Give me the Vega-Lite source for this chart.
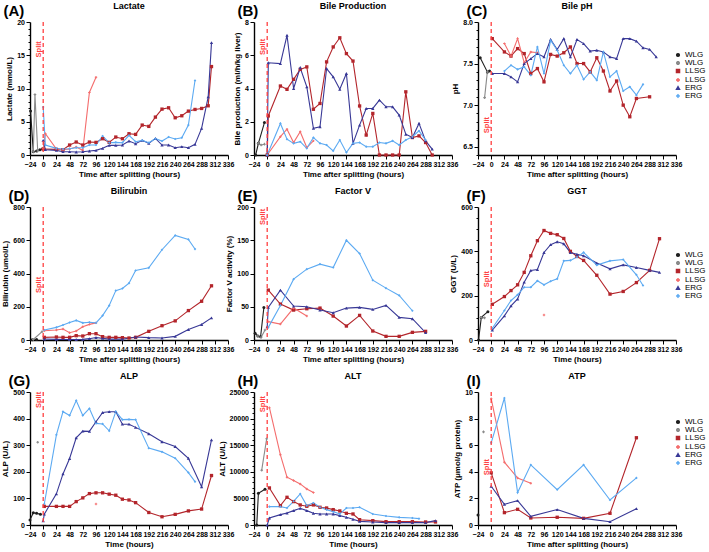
{
"$schema":"https://vega.github.io/schema/vega-lite/v6.json",
"padding":{"left":1,"top":2,"right":0,"bottom":0},
"background":"white",
"config":{
 "view":{"stroke":null},
 "font":"Liberation Sans",
 "axis":{"grid":false,"domainColor":"#000","domainWidth":1.4,"tickColor":"#000","tickWidth":1,"tickSize":4,"labelFont":"Liberation Sans","labelFontWeight":"bold","labelFontSize":7,"labelColor":"#000","labelPadding":1.5,"titleFont":"Liberation Sans","titleFontWeight":"bold","titleFontSize":8,"titleColor":"#000","titlePadding":3,"labelOverlap":false},
 "axisX":{"labelFlush":false},
 "title":{"font":"Liberation Sans","fontSize":9,"fontWeight":"bold","color":"#000","anchor":"middle","frame":"group","offset":-8},
 "legend":{"labelFont":"Liberation Sans","labelFontSize":8,"labelColor":"#000","symbolSize":144,"symbolStrokeWidth":1.2,"rowPadding":-1.5,"labelOffset":3}
},
"datasets":{
"A":[
{"s":"WLG1","t":-23,"v":6.6},{"s":"WLG1","t":-18,"v":0.5},{"s":"WLG1","t":-12,"v":0.6},{"s":"WLG1","t":-6,"v":0.8},{"s":"WLG1","t":-1,"v":0.9},
{"s":"WLG2","t":-18,"v":0.5},{"s":"WLG2","t":-15,"v":9.1},{"s":"WLG2","t":-10,"v":0.6},
{"s":"LLSG1","t":0,"v":0.9},{"s":"LLSG1","t":24,"v":0.85},{"s":"LLSG1","t":36,"v":0.8},{"s":"LLSG1","t":48,"v":1.5},{"s":"LLSG1","t":60,"v":1.95},{"s":"LLSG1","t":72,"v":1.5},{"s":"LLSG1","t":84,"v":1.95},{"s":"LLSG1","t":96,"v":1.9},{"s":"LLSG1","t":108,"v":2.45},{"s":"LLSG1","t":120,"v":1.9},{"s":"LLSG1","t":132,"v":2.7},{"s":"LLSG1","t":144,"v":2.45},{"s":"LLSG1","t":156,"v":3.2},{"s":"LLSG1","t":168,"v":3.1},{"s":"LLSG1","t":180,"v":4.5},{"s":"LLSG1","t":192,"v":4.3},{"s":"LLSG1","t":204,"v":5.7},{"s":"LLSG1","t":216,"v":6.9},{"s":"LLSG1","t":228,"v":7.1},{"s":"LLSG1","t":240,"v":5.6},{"s":"LLSG1","t":252,"v":5.9},{"s":"LLSG1","t":264,"v":6.6},{"s":"LLSG1","t":276,"v":6.85},{"s":"LLSG1","t":288,"v":7.0},{"s":"LLSG1","t":300,"v":7.4},{"s":"LLSG1","t":306,"v":13.3},
{"s":"LLSG2","t":0,"v":1.0},{"s":"LLSG2","t":4,"v":3.2},{"s":"LLSG2","t":24,"v":0.9},{"s":"LLSG2","t":36,"v":0.8},{"s":"LLSG2","t":48,"v":0.9},{"s":"LLSG2","t":60,"v":1.2},{"s":"LLSG2","t":72,"v":0.7},{"s":"LLSG2","t":84,"v":9.4},{"s":"LLSG2","t":96,"v":11.7},
{"s":"ERG1","t":0,"v":2.2},{"s":"ERG1","t":4,"v":0.8},{"s":"ERG1","t":24,"v":0.7},{"s":"ERG1","t":36,"v":0.5},{"s":"ERG1","t":48,"v":0.5},{"s":"ERG1","t":60,"v":0.45},{"s":"ERG1","t":72,"v":0.5},{"s":"ERG1","t":84,"v":0.6},{"s":"ERG1","t":96,"v":0.7},{"s":"ERG1","t":108,"v":1.0},{"s":"ERG1","t":120,"v":1.45},{"s":"ERG1","t":132,"v":1.45},{"s":"ERG1","t":144,"v":1.5},{"s":"ERG1","t":156,"v":2.1},{"s":"ERG1","t":168,"v":1.7},{"s":"ERG1","t":180,"v":2.2},{"s":"ERG1","t":192,"v":1.75},{"s":"ERG1","t":204,"v":2.5},{"s":"ERG1","t":216,"v":1.5},{"s":"ERG1","t":228,"v":1.5},{"s":"ERG1","t":240,"v":1.1},{"s":"ERG1","t":252,"v":1.25},{"s":"ERG1","t":264,"v":1.1},{"s":"ERG1","t":276,"v":1.6},{"s":"ERG1","t":288,"v":4.0},{"s":"ERG1","t":300,"v":8.75},{"s":"ERG1","t":306,"v":16.9},
{"s":"ERG2","t":0,"v":7.2},{"s":"ERG2","t":4,"v":1.5},{"s":"ERG2","t":24,"v":1.0},{"s":"ERG2","t":36,"v":0.9},{"s":"ERG2","t":48,"v":0.95},{"s":"ERG2","t":60,"v":1.1},{"s":"ERG2","t":72,"v":1.1},{"s":"ERG2","t":84,"v":1.5},{"s":"ERG2","t":96,"v":1.5},{"s":"ERG2","t":108,"v":2.85},{"s":"ERG2","t":120,"v":1.85},{"s":"ERG2","t":132,"v":1.9},{"s":"ERG2","t":144,"v":1.85},{"s":"ERG2","t":156,"v":2.95},{"s":"ERG2","t":168,"v":2.0},{"s":"ERG2","t":180,"v":2.2},{"s":"ERG2","t":192,"v":1.85},{"s":"ERG2","t":204,"v":2.45},{"s":"ERG2","t":216,"v":2.1},{"s":"ERG2","t":228,"v":2.7},{"s":"ERG2","t":240,"v":2.4},{"s":"ERG2","t":252,"v":2.6},{"s":"ERG2","t":264,"v":4.5},{"s":"ERG2","t":276,"v":11.2}
],
"B":[
{"s":"WLG1","t":-21,"v":0},{"s":"WLG1","t":-16,"v":0.7},{"s":"WLG1","t":-5,"v":1.95},
{"s":"WLG2","t":-16,"v":0.7},{"s":"WLG2","t":-11,"v":0.6},{"s":"WLG2","t":-5,"v":0.65},
{"s":"LLSG1","t":0,"v":0},{"s":"LLSG1","t":2,"v":2.35},{"s":"LLSG1","t":24,"v":4.15},{"s":"LLSG1","t":36,"v":3.95},{"s":"LLSG1","t":48,"v":4.55},{"s":"LLSG1","t":60,"v":5.15},{"s":"LLSG1","t":72,"v":5.3},{"s":"LLSG1","t":84,"v":2.75},{"s":"LLSG1","t":96,"v":3.1},{"s":"LLSG1","t":108,"v":5.6},{"s":"LLSG1","t":120,"v":6.5},{"s":"LLSG1","t":132,"v":7.05},{"s":"LLSG1","t":144,"v":6.1},{"s":"LLSG1","t":156,"v":5.65},{"s":"LLSG1","t":168,"v":2.95},{"s":"LLSG1","t":180,"v":1.2},{"s":"LLSG1","t":192,"v":2.5},{"s":"LLSG1","t":204,"v":0},{"s":"LLSG1","t":216,"v":0},{"s":"LLSG1","t":228,"v":0},{"s":"LLSG1","t":240,"v":0},{"s":"LLSG1","t":252,"v":3.8},{"s":"LLSG1","t":264,"v":1.05},{"s":"LLSG1","t":276,"v":1.15},{"s":"LLSG1","t":288,"v":0.75},{"s":"LLSG1","t":300,"v":0},
{"s":"LLSG2","t":0,"v":0},{"s":"LLSG2","t":24,"v":1.1},{"s":"LLSG2","t":36,"v":1.55},{"s":"LLSG2","t":48,"v":0.75},{"s":"LLSG2","t":60,"v":1.4},{"s":"LLSG2","t":72,"v":0.45},{"s":"LLSG2","t":84,"v":0.85},
{"s":"ERG1","t":0,"v":0},{"s":"ERG1","t":2,"v":5.55},{"s":"ERG1","t":24,"v":5.5},{"s":"ERG1","t":36,"v":7.2},{"s":"ERG1","t":48,"v":4.0},{"s":"ERG1","t":60,"v":5.25},{"s":"ERG1","t":72,"v":4.1},{"s":"ERG1","t":84,"v":1.6},{"s":"ERG1","t":96,"v":1.7},{"s":"ERG1","t":108,"v":5.2},{"s":"ERG1","t":120,"v":4.7},{"s":"ERG1","t":132,"v":3.95},{"s":"ERG1","t":144,"v":4.9},{"s":"ERG1","t":156,"v":0.7},{"s":"ERG1","t":168,"v":1.8},{"s":"ERG1","t":180,"v":2.8},{"s":"ERG1","t":192,"v":2.8},{"s":"ERG1","t":204,"v":3.3},{"s":"ERG1","t":216,"v":2.9},{"s":"ERG1","t":228,"v":2.9},{"s":"ERG1","t":240,"v":2.4},{"s":"ERG1","t":252,"v":1.25},{"s":"ERG1","t":264,"v":1.05},{"s":"ERG1","t":276,"v":1.9},{"s":"ERG1","t":288,"v":0.85},{"s":"ERG1","t":300,"v":0.35},
{"s":"ERG2","t":0,"v":0},{"s":"ERG2","t":24,"v":1.9},{"s":"ERG2","t":36,"v":0.95},{"s":"ERG2","t":48,"v":0.7},{"s":"ERG2","t":60,"v":0.8},{"s":"ERG2","t":72,"v":0.4},{"s":"ERG2","t":84,"v":1.05},{"s":"ERG2","t":96,"v":0.7},{"s":"ERG2","t":108,"v":0.6},{"s":"ERG2","t":120,"v":0.25},{"s":"ERG2","t":132,"v":0.9},{"s":"ERG2","t":144,"v":0.15},{"s":"ERG2","t":156,"v":0.7},{"s":"ERG2","t":168,"v":0.75},{"s":"ERG2","t":180,"v":0.5},{"s":"ERG2","t":192,"v":0.5},{"s":"ERG2","t":204,"v":0.75},{"s":"ERG2","t":216,"v":0.7},{"s":"ERG2","t":228,"v":0.85},{"s":"ERG2","t":240,"v":0.6},{"s":"ERG2","t":252,"v":0.9},{"s":"ERG2","t":264,"v":1.1},{"s":"ERG2","t":276,"v":1.45},{"s":"ERG2","t":288,"v":0.9}
],
"C":[
{"s":"WLG1","t":-20,"v":7.57},{"s":"WLG1","t":-7,"v":7.40},{"s":"WLG1","t":-3,"v":7.41},
{"s":"WLG2","t":-12,"v":7.09},{"s":"WLG2","t":-7,"v":7.40},
{"s":"LLSG1","t":2,"v":7.80},{"s":"LLSG1","t":24,"v":7.64},{"s":"LLSG1","t":36,"v":7.59},{"s":"LLSG1","t":48,"v":7.68},{"s":"LLSG1","t":60,"v":7.62},{"s":"LLSG1","t":72,"v":7.38},{"s":"LLSG1","t":84,"v":7.44},{"s":"LLSG1","t":96,"v":7.28},{"s":"LLSG1","t":108,"v":7.61},{"s":"LLSG1","t":120,"v":7.59},{"s":"LLSG1","t":132,"v":7.63},{"s":"LLSG1","t":144,"v":7.70},{"s":"LLSG1","t":156,"v":7.50},{"s":"LLSG1","t":168,"v":7.50},{"s":"LLSG1","t":180,"v":7.40},{"s":"LLSG1","t":192,"v":7.57},{"s":"LLSG1","t":204,"v":7.41},{"s":"LLSG1","t":216,"v":7.17},{"s":"LLSG1","t":228,"v":7.29},{"s":"LLSG1","t":240,"v":7.0},{"s":"LLSG1","t":252,"v":6.86},{"s":"LLSG1","t":264,"v":7.08},{"s":"LLSG1","t":288,"v":7.10},
{"s":"LLSG2","t":24,"v":7.74},{"s":"LLSG2","t":36,"v":7.59},{"s":"LLSG2","t":48,"v":7.80},{"s":"LLSG2","t":60,"v":7.51},{"s":"LLSG2","t":72,"v":7.64},{"s":"LLSG2","t":84,"v":7.63},
{"s":"ERG1","t":2,"v":7.38},{"s":"ERG1","t":24,"v":7.38},{"s":"ERG1","t":36,"v":7.34},{"s":"ERG1","t":48,"v":7.28},{"s":"ERG1","t":60,"v":7.50},{"s":"ERG1","t":72,"v":7.56},{"s":"ERG1","t":84,"v":7.62},{"s":"ERG1","t":96,"v":7.58},{"s":"ERG1","t":108,"v":7.79},{"s":"ERG1","t":120,"v":7.67},{"s":"ERG1","t":132,"v":7.80},{"s":"ERG1","t":144,"v":7.58},{"s":"ERG1","t":156,"v":7.79},{"s":"ERG1","t":168,"v":7.74},{"s":"ERG1","t":180,"v":7.65},{"s":"ERG1","t":192,"v":7.66},{"s":"ERG1","t":204,"v":7.64},{"s":"ERG1","t":216,"v":7.58},{"s":"ERG1","t":228,"v":7.56},{"s":"ERG1","t":240,"v":7.80},{"s":"ERG1","t":252,"v":7.80},{"s":"ERG1","t":264,"v":7.77},{"s":"ERG1","t":276,"v":7.69},{"s":"ERG1","t":288,"v":7.67},{"s":"ERG1","t":300,"v":7.58},
{"s":"ERG2","t":24,"v":7.41},{"s":"ERG2","t":36,"v":7.48},{"s":"ERG2","t":48,"v":7.43},{"s":"ERG2","t":60,"v":7.46},{"s":"ERG2","t":72,"v":7.36},{"s":"ERG2","t":84,"v":7.70},{"s":"ERG2","t":96,"v":7.38},{"s":"ERG2","t":108,"v":7.78},{"s":"ERG2","t":120,"v":7.66},{"s":"ERG2","t":132,"v":7.48},{"s":"ERG2","t":144,"v":7.38},{"s":"ERG2","t":156,"v":7.48},{"s":"ERG2","t":168,"v":7.31},{"s":"ERG2","t":180,"v":7.40},{"s":"ERG2","t":192,"v":7.30},{"s":"ERG2","t":204,"v":7.64},{"s":"ERG2","t":216,"v":7.34},{"s":"ERG2","t":228,"v":7.41},{"s":"ERG2","t":240,"v":7.17},{"s":"ERG2","t":252,"v":7.22},{"s":"ERG2","t":264,"v":7.12},{"s":"ERG2","t":276,"v":7.25}
],
"D":[
{"s":"WLG1","t":-20,"v":2},{"s":"WLG1","t":-12,"v":3},
{"s":"WLG2","t":-18,"v":3},{"s":"WLG2","t":-2,"v":50},
{"s":"LLSG1","t":2,"v":16},{"s":"LLSG1","t":24,"v":18},{"s":"LLSG1","t":36,"v":16},{"s":"LLSG1","t":48,"v":16},{"s":"LLSG1","t":60,"v":26},{"s":"LLSG1","t":72,"v":24},{"s":"LLSG1","t":84,"v":38},{"s":"LLSG1","t":96,"v":38},{"s":"LLSG1","t":108,"v":20},{"s":"LLSG1","t":120,"v":16},{"s":"LLSG1","t":132,"v":16},{"s":"LLSG1","t":144,"v":14},{"s":"LLSG1","t":156,"v":12},{"s":"LLSG1","t":168,"v":16},{"s":"LLSG1","t":192,"v":52},{"s":"LLSG1","t":216,"v":86},{"s":"LLSG1","t":240,"v":115},{"s":"LLSG1","t":264,"v":177},{"s":"LLSG1","t":288,"v":233},{"s":"LLSG1","t":306,"v":326},
{"s":"LLSG2","t":2,"v":56},{"s":"LLSG2","t":24,"v":60},{"s":"LLSG2","t":36,"v":66},{"s":"LLSG2","t":48,"v":44},{"s":"LLSG2","t":60,"v":54},{"s":"LLSG2","t":72,"v":80},{"s":"LLSG2","t":84,"v":94},{"s":"LLSG2","t":96,"v":103},
{"s":"ERG1","t":2,"v":6},{"s":"ERG1","t":24,"v":4},{"s":"ERG1","t":48,"v":3},{"s":"ERG1","t":60,"v":3},{"s":"ERG1","t":72,"v":4},{"s":"ERG1","t":84,"v":8},{"s":"ERG1","t":96,"v":15},{"s":"ERG1","t":108,"v":10},{"s":"ERG1","t":120,"v":5},{"s":"ERG1","t":144,"v":5},{"s":"ERG1","t":168,"v":18},{"s":"ERG1","t":192,"v":14},{"s":"ERG1","t":216,"v":12},{"s":"ERG1","t":240,"v":22},{"s":"ERG1","t":264,"v":63},{"s":"ERG1","t":288,"v":93},{"s":"ERG1","t":306,"v":133},
{"s":"ERG2","t":2,"v":60},{"s":"ERG2","t":24,"v":76},{"s":"ERG2","t":36,"v":90},{"s":"ERG2","t":48,"v":105},{"s":"ERG2","t":60,"v":118},{"s":"ERG2","t":72,"v":103},{"s":"ERG2","t":84,"v":107},{"s":"ERG2","t":96,"v":103},{"s":"ERG2","t":108,"v":147},{"s":"ERG2","t":120,"v":207},{"s":"ERG2","t":132,"v":297},{"s":"ERG2","t":144,"v":310},{"s":"ERG2","t":156,"v":342},{"s":"ERG2","t":168,"v":418},{"s":"ERG2","t":192,"v":434},{"s":"ERG2","t":216,"v":543},{"s":"ERG2","t":240,"v":629},{"s":"ERG2","t":264,"v":605},{"s":"ERG2","t":276,"v":547}
],
"E":[
{"s":"WLG1","t":-22,"v":10},{"s":"WLG1","t":-17,"v":6},{"s":"WLG1","t":-12,"v":5},{"s":"WLG1","t":-6,"v":49},
{"s":"WLG2","t":-17,"v":6},{"s":"WLG2","t":-11,"v":4},{"s":"WLG2","t":-4,"v":15},
{"s":"LLSG1","t":2,"v":75},{"s":"LLSG1","t":24,"v":54},{"s":"LLSG1","t":48,"v":45},{"s":"LLSG1","t":72,"v":47},{"s":"LLSG1","t":96,"v":48},{"s":"LLSG1","t":120,"v":36},{"s":"LLSG1","t":144,"v":21},{"s":"LLSG1","t":168,"v":37},{"s":"LLSG1","t":192,"v":13.5},{"s":"LLSG1","t":216,"v":5.5},{"s":"LLSG1","t":240,"v":5.5},{"s":"LLSG1","t":264,"v":11.5},{"s":"LLSG1","t":288,"v":13},
{"s":"LLSG2","t":2,"v":27.6},{"s":"LLSG2","t":24,"v":24},{"s":"LLSG2","t":48,"v":48},{"s":"LLSG2","t":72,"v":36},
{"s":"ERG1","t":0,"v":20},{"s":"ERG1","t":2,"v":49},{"s":"ERG1","t":24,"v":75},{"s":"ERG1","t":48,"v":51},{"s":"ERG1","t":72,"v":50},{"s":"ERG1","t":96,"v":45},{"s":"ERG1","t":120,"v":41},{"s":"ERG1","t":144,"v":48},{"s":"ERG1","t":168,"v":49},{"s":"ERG1","t":192,"v":46},{"s":"ERG1","t":216,"v":52},{"s":"ERG1","t":240,"v":34},{"s":"ERG1","t":264,"v":32},{"s":"ERG1","t":288,"v":11},
{"s":"ERG2","t":2,"v":19},{"s":"ERG2","t":24,"v":52},{"s":"ERG2","t":48,"v":91.5},{"s":"ERG2","t":72,"v":106.5},{"s":"ERG2","t":96,"v":114},{"s":"ERG2","t":120,"v":109},{"s":"ERG2","t":144,"v":150},{"s":"ERG2","t":168,"v":130},{"s":"ERG2","t":192,"v":90},{"s":"ERG2","t":216,"v":78},{"s":"ERG2","t":240,"v":67},{"s":"ERG2","t":264,"v":44}
],
"F":[
{"s":"WLG1","t":-23,"v":0},{"s":"WLG1","t":-18,"v":102},{"s":"WLG1","t":-6,"v":128},
{"s":"WLG2","t":-18,"v":102},{"s":"WLG2","t":-12,"v":100},
{"s":"LLSG1","t":2,"v":161},{"s":"LLSG1","t":24,"v":196},{"s":"LLSG1","t":36,"v":223},{"s":"LLSG1","t":48,"v":249},{"s":"LLSG1","t":60,"v":305},{"s":"LLSG1","t":72,"v":380},{"s":"LLSG1","t":84,"v":448},{"s":"LLSG1","t":96,"v":494},{"s":"LLSG1","t":108,"v":481},{"s":"LLSG1","t":120,"v":475},{"s":"LLSG1","t":132,"v":458},{"s":"LLSG1","t":144,"v":400},{"s":"LLSG1","t":156,"v":377},{"s":"LLSG1","t":168,"v":359},{"s":"LLSG1","t":192,"v":292},{"s":"LLSG1","t":216,"v":207},{"s":"LLSG1","t":240,"v":219},{"s":"LLSG1","t":264,"v":259},{"s":"LLSG1","t":288,"v":314},{"s":"LLSG1","t":306,"v":457},
{"s":"LLSG2","t":96,"v":113},
{"s":"ERG1","t":2,"v":45},{"s":"ERG1","t":24,"v":109},{"s":"ERG1","t":36,"v":154},{"s":"ERG1","t":48,"v":185},{"s":"ERG1","t":60,"v":261},{"s":"ERG1","t":72,"v":314},{"s":"ERG1","t":84,"v":318},{"s":"ERG1","t":96,"v":395},{"s":"ERG1","t":108,"v":430},{"s":"ERG1","t":120,"v":443},{"s":"ERG1","t":132,"v":434},{"s":"ERG1","t":144,"v":395},{"s":"ERG1","t":156,"v":387},{"s":"ERG1","t":168,"v":380},{"s":"ERG1","t":192,"v":347},{"s":"ERG1","t":216,"v":321},{"s":"ERG1","t":240,"v":339},{"s":"ERG1","t":264,"v":327},{"s":"ERG1","t":288,"v":314},{"s":"ERG1","t":306,"v":305},
{"s":"ERG2","t":2,"v":53},{"s":"ERG2","t":24,"v":133},{"s":"ERG2","t":36,"v":178},{"s":"ERG2","t":48,"v":204},{"s":"ERG2","t":60,"v":238},{"s":"ERG2","t":72,"v":238},{"s":"ERG2","t":84,"v":267},{"s":"ERG2","t":96,"v":249},{"s":"ERG2","t":108,"v":265},{"s":"ERG2","t":120,"v":276},{"s":"ERG2","t":132,"v":357},{"s":"ERG2","t":144,"v":359},{"s":"ERG2","t":156,"v":374},{"s":"ERG2","t":168,"v":395},{"s":"ERG2","t":192,"v":338},{"s":"ERG2","t":216,"v":357},{"s":"ERG2","t":240,"v":363},{"s":"ERG2","t":264,"v":294},{"s":"ERG2","t":276,"v":246}
],
"G":[
{"s":"WLG1","t":-24,"v":19},{"s":"WLG1","t":-18,"v":46},{"s":"WLG1","t":-12,"v":44},{"s":"WLG1","t":-5,"v":40},
{"s":"WLG2","t":-10,"v":311},
{"s":"LLSG1","t":2,"v":70},{"s":"LLSG1","t":24,"v":70},{"s":"LLSG1","t":36,"v":70},{"s":"LLSG1","t":48,"v":70},{"s":"LLSG1","t":60,"v":88},{"s":"LLSG1","t":72,"v":102},{"s":"LLSG1","t":84,"v":118},{"s":"LLSG1","t":96,"v":121},{"s":"LLSG1","t":108,"v":121},{"s":"LLSG1","t":120,"v":116},{"s":"LLSG1","t":132,"v":112},{"s":"LLSG1","t":144,"v":97},{"s":"LLSG1","t":156,"v":94},{"s":"LLSG1","t":168,"v":84},{"s":"LLSG1","t":192,"v":47},{"s":"LLSG1","t":216,"v":31},{"s":"LLSG1","t":240,"v":40},{"s":"LLSG1","t":264,"v":53},{"s":"LLSG1","t":288,"v":60},{"s":"LLSG1","t":306,"v":186},
{"s":"LLSG2","t":96,"v":79},
{"s":"ERG1","t":0,"v":16},{"s":"ERG1","t":2,"v":41},{"s":"ERG1","t":24,"v":117},{"s":"ERG1","t":36,"v":192},{"s":"ERG1","t":48,"v":250},{"s":"ERG1","t":60,"v":328},{"s":"ERG1","t":72,"v":353},{"s":"ERG1","t":84,"v":352},{"s":"ERG1","t":96,"v":388},{"s":"ERG1","t":108,"v":423},{"s":"ERG1","t":120,"v":426},{"s":"ERG1","t":132,"v":426},{"s":"ERG1","t":144,"v":379},{"s":"ERG1","t":156,"v":379},{"s":"ERG1","t":168,"v":367},{"s":"ERG1","t":192,"v":343},{"s":"ERG1","t":216,"v":313},{"s":"ERG1","t":240,"v":295},{"s":"ERG1","t":264,"v":251},{"s":"ERG1","t":288,"v":144},{"s":"ERG1","t":306,"v":320},
{"s":"ERG2","t":2,"v":79},{"s":"ERG2","t":24,"v":339},{"s":"ERG2","t":36,"v":426},{"s":"ERG2","t":48,"v":412},{"s":"ERG2","t":60,"v":468},{"s":"ERG2","t":72,"v":412},{"s":"ERG2","t":84,"v":438},{"s":"ERG2","t":96,"v":382},{"s":"ERG2","t":108,"v":380},{"s":"ERG2","t":120,"v":354},{"s":"ERG2","t":132,"v":426},{"s":"ERG2","t":144,"v":396},{"s":"ERG2","t":156,"v":397},{"s":"ERG2","t":168,"v":396},{"s":"ERG2","t":192,"v":289},{"s":"ERG2","t":216,"v":275},{"s":"ERG2","t":240,"v":251},{"s":"ERG2","t":264,"v":197},{"s":"ERG2","t":276,"v":163}
],
"H":[
{"s":"WLG1","t":-19,"v":0},{"s":"WLG1","t":-16,"v":5970},{"s":"WLG1","t":-4,"v":6720},
{"s":"WLG2","t":-10,"v":10300},{"s":"WLG2","t":-1,"v":16200},
{"s":"LLSG1","t":4,"v":6970},{"s":"LLSG1","t":24,"v":3640},{"s":"LLSG1","t":36,"v":5210},{"s":"LLSG1","t":48,"v":4400},{"s":"LLSG1","t":60,"v":3770},{"s":"LLSG1","t":72,"v":3520},{"s":"LLSG1","t":84,"v":3770},{"s":"LLSG1","t":96,"v":3330},{"s":"LLSG1","t":108,"v":3200},{"s":"LLSG1","t":120,"v":2890},{"s":"LLSG1","t":132,"v":2640},{"s":"LLSG1","t":144,"v":2200},{"s":"LLSG1","t":156,"v":2070},{"s":"LLSG1","t":168,"v":1000},{"s":"LLSG1","t":192,"v":820},{"s":"LLSG1","t":216,"v":630},{"s":"LLSG1","t":240,"v":630},{"s":"LLSG1","t":264,"v":630},{"s":"LLSG1","t":288,"v":570},{"s":"LLSG1","t":306,"v":570},
{"s":"LLSG2","t":4,"v":22040},{"s":"LLSG2","t":24,"v":13190},{"s":"LLSG2","t":36,"v":8980},{"s":"LLSG2","t":48,"v":8350},{"s":"LLSG2","t":60,"v":7720},{"s":"LLSG2","t":72,"v":6780},{"s":"LLSG2","t":84,"v":6090},
{"s":"ERG1","t":0,"v":0},{"s":"ERG1","t":4,"v":1320},{"s":"ERG1","t":24,"v":1950},{"s":"ERG1","t":36,"v":2260},{"s":"ERG1","t":48,"v":2700},{"s":"ERG1","t":60,"v":3140},{"s":"ERG1","t":72,"v":2700},{"s":"ERG1","t":84,"v":2200},{"s":"ERG1","t":96,"v":2070},{"s":"ERG1","t":108,"v":2070},{"s":"ERG1","t":120,"v":2070},{"s":"ERG1","t":132,"v":1760},{"s":"ERG1","t":144,"v":1440},{"s":"ERG1","t":156,"v":1070},{"s":"ERG1","t":168,"v":690},{"s":"ERG1","t":192,"v":570},{"s":"ERG1","t":216,"v":440},{"s":"ERG1","t":240,"v":440},{"s":"ERG1","t":264,"v":440},{"s":"ERG1","t":288,"v":440},{"s":"ERG1","t":306,"v":820},
{"s":"ERG2","t":4,"v":3450},{"s":"ERG2","t":24,"v":3450},{"s":"ERG2","t":36,"v":3200},{"s":"ERG2","t":48,"v":4460},{"s":"ERG2","t":60,"v":5840},{"s":"ERG2","t":72,"v":3640},{"s":"ERG2","t":84,"v":4140},{"s":"ERG2","t":96,"v":3330},{"s":"ERG2","t":108,"v":2890},{"s":"ERG2","t":120,"v":2510},{"s":"ERG2","t":132,"v":2070},{"s":"ERG2","t":144,"v":3200},{"s":"ERG2","t":156,"v":3200},{"s":"ERG2","t":168,"v":3330},{"s":"ERG2","t":192,"v":2070},{"s":"ERG2","t":216,"v":1700},{"s":"ERG2","t":240,"v":1440},{"s":"ERG2","t":264,"v":1320},{"s":"ERG2","t":276,"v":1190}
],
"I":[
{"s":"WLG1","t":-24,"v":0.75},
{"s":"WLG2","t":-14,"v":7.0},
{"s":"LLSG1","t":0,"v":3.92},{"s":"LLSG1","t":24,"v":0.93},{"s":"LLSG1","t":48,"v":1.18},{"s":"LLSG1","t":72,"v":0.53},{"s":"LLSG1","t":120,"v":0.58},{"s":"LLSG1","t":168,"v":0.50},{"s":"LLSG1","t":216,"v":0.88},{"s":"LLSG1","t":264,"v":6.56},
{"s":"LLSG2","t":0,"v":9.5},{"s":"LLSG2","t":24,"v":4.72},{"s":"LLSG2","t":48,"v":3.54},{"s":"LLSG2","t":72,"v":3.14},
{"s":"ERG1","t":0,"v":2.91},{"s":"ERG1","t":24,"v":1.56},{"s":"ERG1","t":48,"v":1.83},{"s":"ERG1","t":72,"v":0.65},{"s":"ERG1","t":120,"v":1.16},{"s":"ERG1","t":168,"v":0.50},{"s":"ERG1","t":216,"v":0.25},{"s":"ERG1","t":264,"v":1.23},
{"s":"ERG2","t":0,"v":6.18},{"s":"ERG2","t":24,"v":9.55},{"s":"ERG2","t":48,"v":2.44},{"s":"ERG2","t":72,"v":4.52},{"s":"ERG2","t":120,"v":2.66},{"s":"ERG2","t":168,"v":4.52},{"s":"ERG2","t":216,"v":1.88},{"s":"ERG2","t":264,"v":3.54}
]
},
"columns":3,
"bounds":"flush",
"spacing":{"row":52,"column":26},
"resolve":{"scale":{"fill":"independent","stroke":"independent","shape":"independent","size":"independent"},"legend":{"fill":"independent","stroke":"independent","shape":"independent","size":"independent"}},
"concat":[
{"width":198,"height":133,"title":{"text":"Lactate"},"data":{"name":"A"},"resolve":{"axis":{"x":"independent","y":"independent"}},
"layer":[
{"mark":{"type":"line","strokeWidth":1.1},"encoding":{
"x":{"field":"t","type":"quantitative","scale":{"domain":[-24,336],"nice":false,"zero":false},"axis":{"values":[-24,0,24,48,72,96,120,144,168,192,216,240,264,288,312,336],"title":"Time after splitting (hours)"}},
"y":{"field":"v","type":"quantitative","scale":{"domain":[0,20],"nice":false},"axis":{"values":[0,1,2,3,4,5,6,7,8,9,10,11,12,13,14,15,16,17,18,19,20],"labelExpr":"datum.value % 5 == 0 ? datum.label : ''","tickSize":{"condition":{"test":"datum.value % 5 != 0","value":2},"value":4},"title":"Lactate (mmol/L)"}},
"stroke":{"field":"s","type":"nominal","scale":{"domain":["WLG1","WLG2","LLSG1","LLSG2","ERG1","ERG2"],"range":["#1f1f1f","#8a8a8a","#b3252b","#f46d6d","#383896","#5caaf2"]},"legend":null}}},
{"mark":{"type":"point","filled":true,"opacity":1,"strokeWidth":0},"encoding":{
"x":{"field":"t","type":"quantitative","axis":null},
"y":{"field":"v","type":"quantitative","axis":null},
"fill":{"field":"s","type":"nominal","scale":{"domain":["WLG1","WLG2","LLSG1","LLSG2","ERG1","ERG2"],"range":["#1f1f1f","#8a8a8a","#b3252b","#f46d6d","#383896","#5caaf2"]},"legend":null},
"shape":{"field":"s","type":"nominal","scale":{"domain":["WLG1","WLG2","LLSG1","LLSG2","ERG1","ERG2"],"range":["circle","cross","square","cross","triangle-up","diamond"]},"legend":null},
"size":{"field":"s","type":"nominal","scale":{"type":"ordinal","domain":["WLG1","WLG2","LLSG1","LLSG2","ERG1","ERG2"],"range":[9,7,11,6,11,7]},"legend":null}}},
{"data":{"values":[{}]},"mark":{"type":"rule","color":"#ff4040","strokeDash":[4,3],"strokeWidth":1.3},"encoding":{"x":{"datum":0,"type":"quantitative","axis":{"orient":"top","title":"(A)","titleX":-27,"titleY":-7,"titleAlign":"left","titleAngle":0,"titleBaseline":"alphabetic","titleFontSize":15,"labels":false,"ticks":false,"domain":false}}}},
{"data":{"values":[{}]},"mark":{"type":"text","text":"Split","angle":270,"align":"center","baseline":"bottom","color":"#ff4040","fontSize":7.5,"fontWeight":"bold"},"encoding":{"x":{"datum":0,"type":"quantitative","axis":null},"y":{"datum":15.9,"type":"quantitative","axis":null}}}
]},
{"width":198,"height":133,"title":{"text":"Bile Production"},"data":{"name":"B"},"resolve":{"axis":{"x":"independent","y":"independent"}},
"layer":[
{"mark":{"type":"line","strokeWidth":1.1},"encoding":{
"x":{"field":"t","type":"quantitative","scale":{"domain":[-24,336],"nice":false,"zero":false},"axis":{"values":[-24,0,24,48,72,96,120,144,168,192,216,240,264,288,312,336],"title":"Time after splitting (hours)"}},
"y":{"field":"v","type":"quantitative","scale":{"domain":[0,8],"nice":false},"axis":{"values":[0,2,4,6,8],"title":"Bile production (ml/h/kg liver)"}},
"stroke":{"field":"s","type":"nominal","scale":{"domain":["WLG1","WLG2","LLSG1","LLSG2","ERG1","ERG2"],"range":["#1f1f1f","#8a8a8a","#b3252b","#f46d6d","#383896","#5caaf2"]},"legend":null}}},
{"mark":{"type":"point","filled":true,"opacity":1,"strokeWidth":0},"encoding":{
"x":{"field":"t","type":"quantitative","axis":null},
"y":{"field":"v","type":"quantitative","axis":null},
"fill":{"field":"s","type":"nominal","scale":{"domain":["WLG1","WLG2","LLSG1","LLSG2","ERG1","ERG2"],"range":["#1f1f1f","#8a8a8a","#b3252b","#f46d6d","#383896","#5caaf2"]},"legend":null},
"shape":{"field":"s","type":"nominal","scale":{"domain":["WLG1","WLG2","LLSG1","LLSG2","ERG1","ERG2"],"range":["circle","cross","square","cross","triangle-up","diamond"]},"legend":null},
"size":{"field":"s","type":"nominal","scale":{"type":"ordinal","domain":["WLG1","WLG2","LLSG1","LLSG2","ERG1","ERG2"],"range":[9,7,11,6,11,7]},"legend":null}}},
{"data":{"values":[{}]},"mark":{"type":"rule","color":"#ff4040","strokeDash":[4,3],"strokeWidth":1.3},"encoding":{"x":{"datum":0,"type":"quantitative","axis":{"orient":"top","title":"(B)","titleX":-17,"titleY":-7,"titleAlign":"left","titleAngle":0,"titleBaseline":"alphabetic","titleFontSize":15,"labels":false,"ticks":false,"domain":false}}}},
{"data":{"values":[{}]},"mark":{"type":"text","text":"Split","angle":270,"align":"center","baseline":"bottom","color":"#ff4040","fontSize":7.5,"fontWeight":"bold"},"encoding":{"x":{"datum":0,"type":"quantitative","axis":null},"y":{"datum":6.5,"type":"quantitative","axis":null}}}
]},
{"width":198,"height":133,"title":{"text":"Bile pH"},"data":{"name":"C"},"resolve":{"axis":{"x":"independent","y":"independent"}},
"layer":[
{"mark":{"type":"line","strokeWidth":1.1},"encoding":{
"x":{"field":"t","type":"quantitative","scale":{"domain":[-24,336],"nice":false,"zero":false},"axis":{"values":[-24,0,24,48,72,96,120,144,168,192,216,240,264,288,312,336],"title":"Time after splitting (hours)"}},
"y":{"field":"v","type":"quantitative","scale":{"domain":[6.4,8.0],"nice":false,"zero":false},"axis":{"values":[6.4,6.5,6.6,6.7,6.8,6.9,7.0,7.1,7.2,7.3,7.4,7.5,7.6,7.7,7.8,7.9,8.0],"format":".1f","labelExpr":"abs(datum.value*2 - round(datum.value*2)) < 0.001 ? datum.label : ''","tickSize":{"condition":{"test":"abs(datum.value*2 - round(datum.value*2)) >= 0.001","value":2},"value":4},"title":"pH"}},
"stroke":{"field":"s","type":"nominal","scale":{"domain":["WLG1","WLG2","LLSG1","LLSG2","ERG1","ERG2"],"range":["#1f1f1f","#8a8a8a","#b3252b","#f46d6d","#383896","#5caaf2"]},
"legend":{"orient":"none","legendX":196,"legendY":29,"title":null,"labelExpr":"slice(datum.label,0,-1)","encode":{"symbols":{"update":{"shape":{"signal":"['M-1,0H1M0.3,0A0.3,0.3,0,1,1,-0.3,0A0.3,0.3,0,1,1,0.3,0','M-1,0H1M0,-0.3V0.3','M-1,0H1M-0.3,-0.3H0.3V0.3H-0.3Z','M-1,0H1M0,-0.3V0.3','M-1,0H1M0,-0.35L0.35,0.3H-0.35Z','M-1,0H1M0,-0.3L0.3,0L0,0.3L-0.3,0Z'][indexof(['WLG1','WLG2','LLSG1','LLSG2','ERG1','ERG2'],datum.value)]"},"fill":{"signal":"['#1f1f1f','#8a8a8a','#b3252b','#f46d6d','#383896','#5caaf2'][indexof(['WLG1','WLG2','LLSG1','LLSG2','ERG1','ERG2'],datum.value)]"}}}}}}}},
{"mark":{"type":"point","filled":true,"opacity":1,"strokeWidth":0},"encoding":{
"x":{"field":"t","type":"quantitative","axis":null},
"y":{"field":"v","type":"quantitative","axis":null},
"fill":{"field":"s","type":"nominal","scale":{"domain":["WLG1","WLG2","LLSG1","LLSG2","ERG1","ERG2"],"range":["#1f1f1f","#8a8a8a","#b3252b","#f46d6d","#383896","#5caaf2"]},"legend":null},
"shape":{"field":"s","type":"nominal","scale":{"domain":["WLG1","WLG2","LLSG1","LLSG2","ERG1","ERG2"],"range":["circle","cross","square","cross","triangle-up","diamond"]},"legend":null},
"size":{"field":"s","type":"nominal","scale":{"type":"ordinal","domain":["WLG1","WLG2","LLSG1","LLSG2","ERG1","ERG2"],"range":[9,7,11,6,11,7]},"legend":null}}},
{"data":{"values":[{}]},"mark":{"type":"rule","color":"#ff4040","strokeDash":[4,3],"strokeWidth":1.3},"encoding":{"x":{"datum":0,"type":"quantitative","axis":{"orient":"top","title":"(C)","titleX":-12,"titleY":-7,"titleAlign":"left","titleAngle":0,"titleBaseline":"alphabetic","titleFontSize":15,"labels":false,"ticks":false,"domain":false}}}},
{"data":{"values":[{}]},"mark":{"type":"text","text":"Split","angle":270,"align":"center","baseline":"bottom","color":"#ff4040","fontSize":7.5,"fontWeight":"bold"},"encoding":{"x":{"datum":0,"type":"quantitative","axis":null},"y":{"datum":6.76,"type":"quantitative","axis":null}}}
]},
{"width":198,"height":133,"title":{"text":"Bilirubin"},"data":{"name":"D"},"resolve":{"axis":{"x":"independent","y":"independent"}},
"layer":[
{"mark":{"type":"line","strokeWidth":1.1},"encoding":{
"x":{"field":"t","type":"quantitative","scale":{"domain":[-24,336],"nice":false,"zero":false},"axis":{"values":[-24,0,24,48,72,96,120,144,168,192,216,240,264,288,312,336],"title":"Time after splitting (hours)"}},
"y":{"field":"v","type":"quantitative","scale":{"domain":[0,800],"nice":false},"axis":{"values":[0,200,400,600,800],"title":"Bilirubin (umol/L)"}},
"stroke":{"field":"s","type":"nominal","scale":{"domain":["WLG1","WLG2","LLSG1","LLSG2","ERG1","ERG2"],"range":["#1f1f1f","#8a8a8a","#b3252b","#f46d6d","#383896","#5caaf2"]},"legend":null}}},
{"mark":{"type":"point","filled":true,"opacity":1,"strokeWidth":0},"encoding":{
"x":{"field":"t","type":"quantitative","axis":null},
"y":{"field":"v","type":"quantitative","axis":null},
"fill":{"field":"s","type":"nominal","scale":{"domain":["WLG1","WLG2","LLSG1","LLSG2","ERG1","ERG2"],"range":["#1f1f1f","#8a8a8a","#b3252b","#f46d6d","#383896","#5caaf2"]},"legend":null},
"shape":{"field":"s","type":"nominal","scale":{"domain":["WLG1","WLG2","LLSG1","LLSG2","ERG1","ERG2"],"range":["circle","cross","square","cross","triangle-up","diamond"]},"legend":null},
"size":{"field":"s","type":"nominal","scale":{"type":"ordinal","domain":["WLG1","WLG2","LLSG1","LLSG2","ERG1","ERG2"],"range":[9,7,11,6,11,7]},"legend":null}}},
{"data":{"values":[{}]},"mark":{"type":"rule","color":"#ff4040","strokeDash":[4,3],"strokeWidth":1.3},"encoding":{"x":{"datum":0,"type":"quantitative","axis":{"orient":"top","title":"(D)","titleX":-22,"titleY":-7,"titleAlign":"left","titleAngle":0,"titleBaseline":"alphabetic","titleFontSize":15,"labels":false,"ticks":false,"domain":false}}}},
{"data":{"values":[{}]},"mark":{"type":"text","text":"Split","angle":270,"align":"center","baseline":"bottom","color":"#ff4040","fontSize":7.5,"fontWeight":"bold"},"encoding":{"x":{"datum":0,"type":"quantitative","axis":null},"y":{"datum":331,"type":"quantitative","axis":null}}}
]},
{"width":198,"height":133,"title":{"text":"Factor V"},"data":{"name":"E"},"resolve":{"axis":{"x":"independent","y":"independent"}},
"layer":[
{"mark":{"type":"line","strokeWidth":1.1},"encoding":{
"x":{"field":"t","type":"quantitative","scale":{"domain":[-24,336],"nice":false,"zero":false},"axis":{"values":[-24,0,24,48,72,96,120,144,168,192,216,240,264,288,312,336],"title":"Time after splitting (hours)"}},
"y":{"field":"v","type":"quantitative","scale":{"domain":[0,200],"nice":false},"axis":{"values":[0,50,100,150,200],"title":"Factor V activity (%)"}},
"stroke":{"field":"s","type":"nominal","scale":{"domain":["WLG1","WLG2","LLSG1","LLSG2","ERG1","ERG2"],"range":["#1f1f1f","#8a8a8a","#b3252b","#f46d6d","#383896","#5caaf2"]},"legend":null}}},
{"mark":{"type":"point","filled":true,"opacity":1,"strokeWidth":0},"encoding":{
"x":{"field":"t","type":"quantitative","axis":null},
"y":{"field":"v","type":"quantitative","axis":null},
"fill":{"field":"s","type":"nominal","scale":{"domain":["WLG1","WLG2","LLSG1","LLSG2","ERG1","ERG2"],"range":["#1f1f1f","#8a8a8a","#b3252b","#f46d6d","#383896","#5caaf2"]},"legend":null},
"shape":{"field":"s","type":"nominal","scale":{"domain":["WLG1","WLG2","LLSG1","LLSG2","ERG1","ERG2"],"range":["circle","cross","square","cross","triangle-up","diamond"]},"legend":null},
"size":{"field":"s","type":"nominal","scale":{"type":"ordinal","domain":["WLG1","WLG2","LLSG1","LLSG2","ERG1","ERG2"],"range":[9,7,11,6,11,7]},"legend":null}}},
{"data":{"values":[{}]},"mark":{"type":"rule","color":"#ff4040","strokeDash":[4,3],"strokeWidth":1.3},"encoding":{"x":{"datum":0,"type":"quantitative","axis":{"orient":"top","title":"(E)","titleX":-17,"titleY":-7,"titleAlign":"left","titleAngle":0,"titleBaseline":"alphabetic","titleFontSize":15,"labels":false,"ticks":false,"domain":false}}}},
{"data":{"values":[{}]},"mark":{"type":"text","text":"Split","angle":270,"align":"center","baseline":"bottom","color":"#ff4040","fontSize":7.5,"fontWeight":"bold"},"encoding":{"x":{"datum":0,"type":"quantitative","axis":null},"y":{"datum":185,"type":"quantitative","axis":null}}}
]},
{"width":198,"height":133,"title":{"text":"GGT"},"data":{"name":"F"},"resolve":{"axis":{"x":"independent","y":"independent"}},
"layer":[
{"mark":{"type":"line","strokeWidth":1.1},"encoding":{
"x":{"field":"t","type":"quantitative","scale":{"domain":[-24,336],"nice":false,"zero":false},"axis":{"values":[-24,0,24,48,72,96,120,144,168,192,216,240,264,288,312,336],"title":"Time (hours)"}},
"y":{"field":"v","type":"quantitative","scale":{"domain":[0,600],"nice":false},"axis":{"values":[0,50,100,150,200,250,300,350,400,450,500,550,600],"labelExpr":"datum.value % 200 == 0 ? datum.label : ''","tickSize":{"condition":{"test":"datum.value % 200 != 0","value":2},"value":4},"title":"GGT (U/L)"}},
"stroke":{"field":"s","type":"nominal","scale":{"domain":["WLG1","WLG2","LLSG1","LLSG2","ERG1","ERG2"],"range":["#1f1f1f","#8a8a8a","#b3252b","#f46d6d","#383896","#5caaf2"]},
"legend":{"orient":"none","legendX":196,"legendY":44,"title":null,"labelExpr":"slice(datum.label,0,-1)","encode":{"symbols":{"update":{"shape":{"signal":"['M-1,0H1M0.3,0A0.3,0.3,0,1,1,-0.3,0A0.3,0.3,0,1,1,0.3,0','M-1,0H1M0,-0.3V0.3','M-1,0H1M-0.3,-0.3H0.3V0.3H-0.3Z','M-1,0H1M0,-0.3V0.3','M-1,0H1M0,-0.35L0.35,0.3H-0.35Z','M-1,0H1M0,-0.3L0.3,0L0,0.3L-0.3,0Z'][indexof(['WLG1','WLG2','LLSG1','LLSG2','ERG1','ERG2'],datum.value)]"},"fill":{"signal":"['#1f1f1f','#8a8a8a','#b3252b','#f46d6d','#383896','#5caaf2'][indexof(['WLG1','WLG2','LLSG1','LLSG2','ERG1','ERG2'],datum.value)]"}}}}}}}},
{"mark":{"type":"point","filled":true,"opacity":1,"strokeWidth":0},"encoding":{
"x":{"field":"t","type":"quantitative","axis":null},
"y":{"field":"v","type":"quantitative","axis":null},
"fill":{"field":"s","type":"nominal","scale":{"domain":["WLG1","WLG2","LLSG1","LLSG2","ERG1","ERG2"],"range":["#1f1f1f","#8a8a8a","#b3252b","#f46d6d","#383896","#5caaf2"]},"legend":null},
"shape":{"field":"s","type":"nominal","scale":{"domain":["WLG1","WLG2","LLSG1","LLSG2","ERG1","ERG2"],"range":["circle","cross","square","cross","triangle-up","diamond"]},"legend":null},
"size":{"field":"s","type":"nominal","scale":{"type":"ordinal","domain":["WLG1","WLG2","LLSG1","LLSG2","ERG1","ERG2"],"range":[9,7,11,6,11,7]},"legend":null}}},
{"data":{"values":[{}]},"mark":{"type":"rule","color":"#ff4040","strokeDash":[4,3],"strokeWidth":1.3},"encoding":{"x":{"datum":0,"type":"quantitative","axis":{"orient":"top","title":"(F)","titleX":-12,"titleY":-7,"titleAlign":"left","titleAngle":0,"titleBaseline":"alphabetic","titleFontSize":15,"labels":false,"ticks":false,"domain":false}}}},
{"data":{"values":[{}]},"mark":{"type":"text","text":"Split","angle":270,"align":"center","baseline":"bottom","color":"#ff4040","fontSize":7.5,"fontWeight":"bold"},"encoding":{"x":{"datum":0,"type":"quantitative","axis":null},"y":{"datum":275,"type":"quantitative","axis":null}}}
]},
{"width":198,"height":133,"title":{"text":"ALP"},"data":{"name":"G"},"resolve":{"axis":{"x":"independent","y":"independent"}},
"layer":[
{"mark":{"type":"line","strokeWidth":1.1},"encoding":{
"x":{"field":"t","type":"quantitative","scale":{"domain":[-24,336],"nice":false,"zero":false},"axis":{"values":[-24,0,24,48,72,96,120,144,168,192,216,240,264,288,312,336],"title":"Time (hours)"}},
"y":{"field":"v","type":"quantitative","scale":{"domain":[0,500],"nice":false},"axis":{"values":[0,100,200,300,400,500],"title":"ALP (U/L)"}},
"stroke":{"field":"s","type":"nominal","scale":{"domain":["WLG1","WLG2","LLSG1","LLSG2","ERG1","ERG2"],"range":["#1f1f1f","#8a8a8a","#b3252b","#f46d6d","#383896","#5caaf2"]},"legend":null}}},
{"mark":{"type":"point","filled":true,"opacity":1,"strokeWidth":0},"encoding":{
"x":{"field":"t","type":"quantitative","axis":null},
"y":{"field":"v","type":"quantitative","axis":null},
"fill":{"field":"s","type":"nominal","scale":{"domain":["WLG1","WLG2","LLSG1","LLSG2","ERG1","ERG2"],"range":["#1f1f1f","#8a8a8a","#b3252b","#f46d6d","#383896","#5caaf2"]},"legend":null},
"shape":{"field":"s","type":"nominal","scale":{"domain":["WLG1","WLG2","LLSG1","LLSG2","ERG1","ERG2"],"range":["circle","cross","square","cross","triangle-up","diamond"]},"legend":null},
"size":{"field":"s","type":"nominal","scale":{"type":"ordinal","domain":["WLG1","WLG2","LLSG1","LLSG2","ERG1","ERG2"],"range":[9,7,11,6,11,7]},"legend":null}}},
{"data":{"values":[{}]},"mark":{"type":"rule","color":"#ff4040","strokeDash":[4,3],"strokeWidth":1.3},"encoding":{"x":{"datum":0,"type":"quantitative","axis":{"orient":"top","title":"(G)","titleX":-22,"titleY":-7,"titleAlign":"left","titleAngle":0,"titleBaseline":"alphabetic","titleFontSize":15,"labels":false,"ticks":false,"domain":false}}}},
{"data":{"values":[{}]},"mark":{"type":"text","text":"Split","angle":270,"align":"center","baseline":"bottom","color":"#ff4040","fontSize":7.5,"fontWeight":"bold"},"encoding":{"x":{"datum":0,"type":"quantitative","axis":null},"y":{"datum":470,"type":"quantitative","axis":null}}}
]},
{"width":198,"height":133,"title":{"text":"ALT"},"data":{"name":"H"},"resolve":{"axis":{"x":"independent","y":"independent"}},
"layer":[
{"mark":{"type":"line","strokeWidth":1.1},"encoding":{
"x":{"field":"t","type":"quantitative","scale":{"domain":[-24,336],"nice":false,"zero":false},"axis":{"values":[-24,0,24,48,72,96,120,144,168,192,216,240,264,288,312,336],"title":"Time (hours)"}},
"y":{"field":"v","type":"quantitative","scale":{"domain":[0,25000],"nice":false},"axis":{"values":[0,1000,2000,3000,4000,5000,6000,7000,8000,9000,10000,11000,12000,13000,14000,15000,16000,17000,18000,19000,20000,21000,22000,23000,24000,25000],"format":"d","labelExpr":"datum.value % 5000 == 0 ? datum.label : ''","tickSize":{"condition":{"test":"datum.value % 5000 != 0","value":2},"value":4},"title":"ALT (U/L)"}},
"stroke":{"field":"s","type":"nominal","scale":{"domain":["WLG1","WLG2","LLSG1","LLSG2","ERG1","ERG2"],"range":["#1f1f1f","#8a8a8a","#b3252b","#f46d6d","#383896","#5caaf2"]},"legend":null}}},
{"mark":{"type":"point","filled":true,"opacity":1,"strokeWidth":0},"encoding":{
"x":{"field":"t","type":"quantitative","axis":null},
"y":{"field":"v","type":"quantitative","axis":null},
"fill":{"field":"s","type":"nominal","scale":{"domain":["WLG1","WLG2","LLSG1","LLSG2","ERG1","ERG2"],"range":["#1f1f1f","#8a8a8a","#b3252b","#f46d6d","#383896","#5caaf2"]},"legend":null},
"shape":{"field":"s","type":"nominal","scale":{"domain":["WLG1","WLG2","LLSG1","LLSG2","ERG1","ERG2"],"range":["circle","cross","square","cross","triangle-up","diamond"]},"legend":null},
"size":{"field":"s","type":"nominal","scale":{"type":"ordinal","domain":["WLG1","WLG2","LLSG1","LLSG2","ERG1","ERG2"],"range":[9,7,11,6,11,7]},"legend":null}}},
{"data":{"values":[{}]},"mark":{"type":"rule","color":"#ff4040","strokeDash":[4,3],"strokeWidth":1.3},"encoding":{"x":{"datum":0,"type":"quantitative","axis":{"orient":"top","title":"(H)","titleX":-17,"titleY":-7,"titleAlign":"left","titleAngle":0,"titleBaseline":"alphabetic","titleFontSize":15,"labels":false,"ticks":false,"domain":false}}}},
{"data":{"values":[{}]},"mark":{"type":"text","text":"Split","angle":270,"align":"center","baseline":"bottom","color":"#ff4040","fontSize":7.5,"fontWeight":"bold"},"encoding":{"x":{"datum":0,"type":"quantitative","axis":null},"y":{"datum":22740,"type":"quantitative","axis":null}}}
]},
{"width":198,"height":133,"title":{"text":"ATP"},"data":{"name":"I"},"resolve":{"axis":{"x":"independent","y":"independent"}},
"layer":[
{"mark":{"type":"line","strokeWidth":1.1},"encoding":{
"x":{"field":"t","type":"quantitative","scale":{"domain":[-24,336],"nice":false,"zero":false},"axis":{"values":[-24,0,24,48,72,96,120,144,168,192,216,240,264,288,312,336],"title":"Time after splitting (hours)"}},
"y":{"field":"v","type":"quantitative","scale":{"domain":[0,10],"nice":false},"axis":{"values":[0,2,4,6,8,10],"title":"ATP (μmol/g protein)"}},
"stroke":{"field":"s","type":"nominal","scale":{"domain":["WLG1","WLG2","LLSG1","LLSG2","ERG1","ERG2"],"range":["#1f1f1f","#8a8a8a","#b3252b","#f46d6d","#383896","#5caaf2"]},
"legend":{"orient":"none","legendX":196,"legendY":26,"title":null,"labelExpr":"slice(datum.label,0,-1)","encode":{"symbols":{"update":{"shape":{"signal":"['M-1,0H1M0.3,0A0.3,0.3,0,1,1,-0.3,0A0.3,0.3,0,1,1,0.3,0','M-1,0H1M0,-0.3V0.3','M-1,0H1M-0.3,-0.3H0.3V0.3H-0.3Z','M-1,0H1M0,-0.3V0.3','M-1,0H1M0,-0.35L0.35,0.3H-0.35Z','M-1,0H1M0,-0.3L0.3,0L0,0.3L-0.3,0Z'][indexof(['WLG1','WLG2','LLSG1','LLSG2','ERG1','ERG2'],datum.value)]"},"fill":{"signal":"['#1f1f1f','#8a8a8a','#b3252b','#f46d6d','#383896','#5caaf2'][indexof(['WLG1','WLG2','LLSG1','LLSG2','ERG1','ERG2'],datum.value)]"}}}}}}}},
{"mark":{"type":"point","filled":true,"opacity":1,"strokeWidth":0},"encoding":{
"x":{"field":"t","type":"quantitative","axis":null},
"y":{"field":"v","type":"quantitative","axis":null},
"fill":{"field":"s","type":"nominal","scale":{"domain":["WLG1","WLG2","LLSG1","LLSG2","ERG1","ERG2"],"range":["#1f1f1f","#8a8a8a","#b3252b","#f46d6d","#383896","#5caaf2"]},"legend":null},
"shape":{"field":"s","type":"nominal","scale":{"domain":["WLG1","WLG2","LLSG1","LLSG2","ERG1","ERG2"],"range":["circle","cross","square","cross","triangle-up","diamond"]},"legend":null},
"size":{"field":"s","type":"nominal","scale":{"type":"ordinal","domain":["WLG1","WLG2","LLSG1","LLSG2","ERG1","ERG2"],"range":[9,7,11,6,11,7]},"legend":null}}},
{"data":{"values":[{}]},"mark":{"type":"rule","color":"#ff4040","strokeDash":[4,3],"strokeWidth":1.3},"encoding":{"x":{"datum":0,"type":"quantitative","axis":{"orient":"top","title":"(I)","titleX":-12,"titleY":-7,"titleAlign":"left","titleAngle":0,"titleBaseline":"alphabetic","titleFontSize":15,"labels":false,"ticks":false,"domain":false}}}},
{"data":{"values":[{}]},"mark":{"type":"text","text":"Split","angle":270,"align":"center","baseline":"bottom","color":"#ff4040","fontSize":7.5,"fontWeight":"bold"},"encoding":{"x":{"datum":0,"type":"quantitative","axis":null},"y":{"datum":4.36,"type":"quantitative","axis":null}}}
]}
]
}
